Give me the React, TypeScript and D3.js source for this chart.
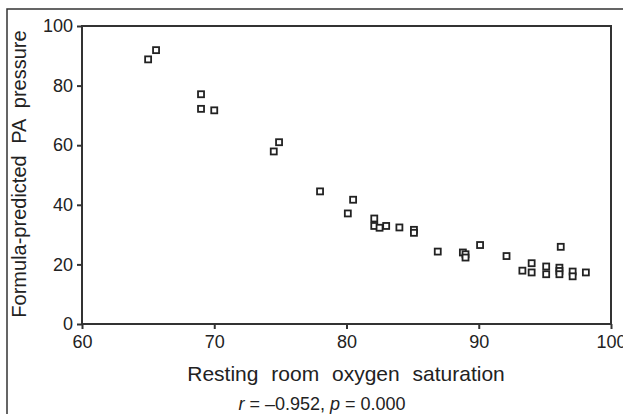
import React, { useEffect, useRef } from 'react';
import * as d3 from 'd3';

// resting room oxygen saturation (%)
const saturation = [
	65.0, 65.6, 69.0, 69.0, 70.0, 74.5, 74.9, 78.0, 80.1, 80.5,
	82.1, 82.1, 82.5, 83.0, 84.0, 85.1, 85.1, 86.9, 88.8, 89.0,
	89.0, 90.1, 92.1, 93.3, 94.0, 94.0, 95.1, 95.1, 96.2, 96.1,
	96.1, 96.1, 97.1, 97.1, 98.1,
];
// formula-predicted PA pressure
const paPressure = [
	88.8, 91.9, 77.1, 72.2, 71.7, 57.9, 61.0, 44.5, 37.1, 41.7,
	35.4, 32.9, 32.3, 32.9, 32.4, 31.6, 30.6, 24.3, 24.0, 23.4,
	22.3, 26.5, 22.8, 17.9, 20.4, 17.3, 19.3, 16.7, 25.9, 18.9,
	17.8, 16.7, 17.6, 16.0, 17.3,
];
const xTicks = [60, 70, 80, 90, 100];
const yTicks = [0, 20, 40, 60, 80, 100];

const FONT = '"Liberation Sans", Arial, sans-serif';

function App() {
	const svgRef = useRef(null);

	useEffect(() => {
		const w = 623;
		const h = 414;
		const svg = d3.select(svgRef.current);
		svg.selectAll('*').remove();

		const x = d3.scaleLinear().domain([60, 100]).range([82, 611]);
		const y = d3.scaleLinear().domain([0, 100]).range([324, 26]);

		// outer frame (only top & left visible)
		svg.append('path')
			.attr('d', `M7,${h + 5} V9 H${w + 5}`)
			.attr('fill', 'none')
			.attr('stroke', '#333')
			.attr('stroke-width', 1.5);

		// plot box
		svg.append('rect')
			.attr('x', x(60)).attr('y', y(100))
			.attr('width', x(100) - x(60)).attr('height', y(0) - y(100))
			.attr('fill', 'none')
			.attr('stroke', '#333')
			.attr('stroke-width', 2);

		const xAxis = svg.append('g')
			.attr('transform', `translate(0,${y(0)})`)
			.call(d3.axisBottom(x).tickValues(xTicks).tickSize(5).tickPadding(6).tickFormat(d3.format('d')));
		const yAxis = svg.append('g')
			.attr('transform', `translate(${x(60)},0)`)
			.call(d3.axisLeft(y).tickValues(yTicks).tickSize(5).tickPadding(4).tickFormat(d3.format('d')));

		[xAxis, yAxis].forEach(g => {
			g.select('.domain').remove();
			g.selectAll('line').attr('stroke', '#333').attr('stroke-width', 2);
			g.selectAll('text')
				.attr('fill', '#222')
				.style('font-family', FONT)
				.style('font-size', '18px');
		});

		// points
		svg.append('g')
			.selectAll('rect')
			.data(saturation.map((s, i) => [s, paPressure[i]]))
			.join('rect')
			.attr('x', d => x(d[0]) - 3)
			.attr('y', d => y(d[1]) - 3)
			.attr('width', 6)
			.attr('height', 6)
			.attr('fill', '#fff')
			.attr('stroke', '#222')
			.attr('stroke-width', 1.8);

		svg.append('text')
			.attr('transform', `translate(26,${(y(0) + y(100)) / 2 - 1}) rotate(-90)`)
			.attr('text-anchor', 'middle')
			.attr('fill', '#222')
			.style('font-family', FONT)
			.style('font-size', '20px')
			.style('word-spacing', '6px')
			.text('Formula-predicted PA pressure');

		svg.append('text')
			.attr('x', 346)
			.attr('y', 381)
			.attr('text-anchor', 'middle')
			.attr('fill', '#222')
			.style('font-family', FONT)
			.style('font-size', '21px')
			.style('word-spacing', '7px')
			.text('Resting room oxygen saturation');

		const stat = svg.append('text')
			.attr('x', 322)
			.attr('y', 410)
			.attr('text-anchor', 'middle')
			.attr('fill', '#222')
			.style('font-family', FONT)
			.style('font-size', '18px');
		stat.append('tspan').style('font-style', 'italic').text('r');
		stat.append('tspan').text(' = \u20130.952, ');
		stat.append('tspan').style('font-style', 'italic').text('p');
		stat.append('tspan').text(' = 0.000');

		svg.attr('width', w).attr('height', h);
	}, []);

	return (
		<svg ref={svgRef} width={623} height={414}
			style={{ position: 'absolute', left: 0, top: 0, background: '#fff' }} />
	);
}

export default App;
